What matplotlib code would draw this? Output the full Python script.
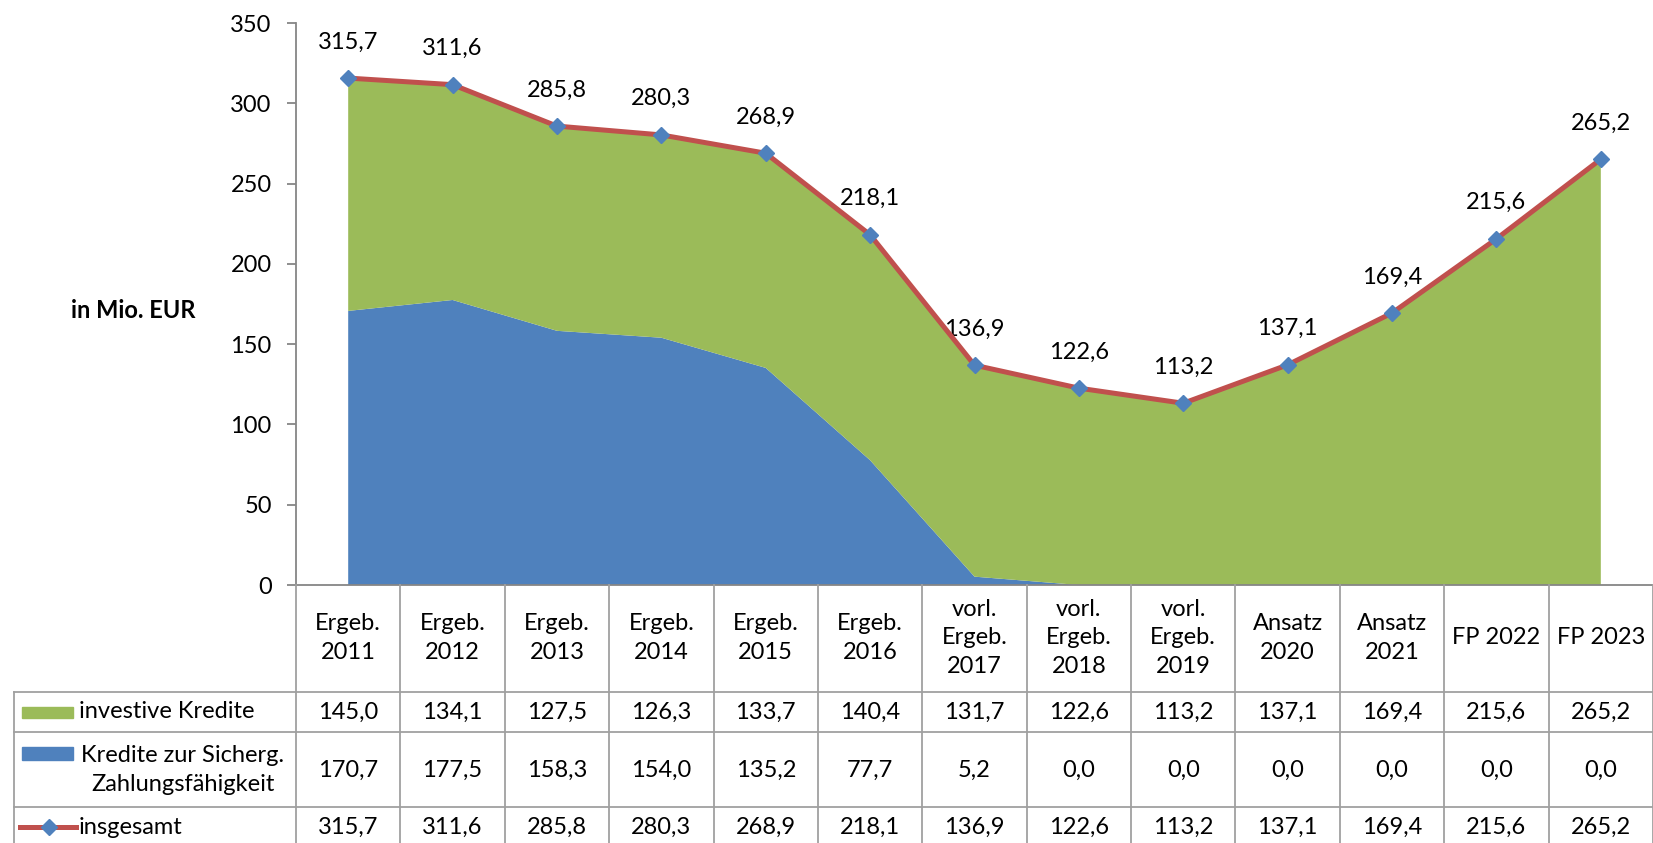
import matplotlib
matplotlib.use("Agg")
import matplotlib.pyplot as plt
import matplotlib.transforms as mtransforms
from matplotlib.lines import Line2D
from matplotlib.patches import Rectangle

plt.rcParams['font.family'] = ['Lato', 'DejaVu Sans']

# Daten
kategorien = ["Ergeb.\n2011", "Ergeb.\n2012", "Ergeb.\n2013", "Ergeb.\n2014", "Ergeb.\n2015",
              "Ergeb.\n2016", "vorl.\nErgeb.\n2017", "vorl.\nErgeb.\n2018", "vorl.\nErgeb.\n2019",
              "Ansatz\n2020", "Ansatz\n2021", "FP 2022", "FP 2023"]
investive = [145.0, 134.1, 127.5, 126.3, 133.7, 140.4, 131.7, 122.6, 113.2, 137.1, 169.4, 215.6, 265.2]
sicherung = [170.7, 177.5, 158.3, 154.0, 135.2, 77.7, 5.2, 0.0, 0.0, 0.0, 0.0, 0.0, 0.0]
insgesamt = [315.7, 311.6, 285.8, 280.3, 268.9, 218.1, 136.9, 122.6, 113.2, 137.1, 169.4, 215.6, 265.2]
reihen_namen = ["investive Kredite", "Kredite zur Sicherg.\nZahlungsfähigkeit", "insgesamt"]

GRUEN = "#9BBB59"
BLAU = "#4F81BD"
ROT = "#C0504D"
GRAU = "#A0A0A0"
FS = 17

W, H = 1653, 843
fig = plt.figure(figsize=(W / 100, H / 100), dpi=100)

def px(x):
    return x / W

def py(y):
    return 1 - y / H

ax = fig.add_axes([px(296), py(585), 1 - px(296), py(23) - py(585)])
x = list(range(len(kategorien)))

ax.stackplot(x, sicherung, investive, colors=[BLAU, GRUEN], linewidth=0)
ax.plot(x, insgesamt, color=ROT, linewidth=3.6, marker="D", markersize=8.5,
        markerfacecolor=BLAU, markeredgecolor=BLAU, zorder=5)
for xi, v in zip(x, insgesamt):
    ax.annotate(f"{v:.1f}".replace(".", ","), (xi, v), xytext=(0, 26),
                textcoords="offset points", ha="center", va="center", fontsize=FS)

ax.set_xlim(-0.5, len(kategorien) - 0.5)
ax.set_ylim(0, 350)
ax.set_yticks(range(0, 351, 50))
ax.set_xticks([])
ax.tick_params(axis="y", length=6.5, width=1.3, color="#868686", pad=11, labelsize=FS)
for s in ["top", "right"]:
    ax.spines[s].set_visible(False)
ax.spines["left"].set_color("#868686")
ax.spines["left"].set_linewidth(1.3)
ax.spines["bottom"].set_color("#868686")
ax.spines["bottom"].set_linewidth(1.3)

fig.text(px(133), py(311), "in Mio. EUR", ha="center", va="center",
         fontsize=FS, fontweight="bold")

# Datentabelle unter dem Diagramm
tr = mtransforms.blended_transform_factory(ax.transData, fig.transFigure)
zeilen_grenzen = [691.7, 732.3, 807]
for xi in range(len(kategorien) + 1):
    fig.add_artist(Line2D([xi - 0.5, xi - 0.5], [py(585), py(843)], transform=tr,
                          color=GRAU, linewidth=1.3))
for yb in zeilen_grenzen:
    fig.add_artist(Line2D([px(14), 1], [py(yb), py(yb)], color=GRAU, linewidth=1.3))
fig.add_artist(Line2D([px(14), px(14)], [py(691.7), py(843)], color=GRAU, linewidth=1.3))

for xi, kat in zip(x, kategorien):
    fig.text(xi, py(638), kat, transform=tr, ha="center", va="center",
             fontsize=FS, linespacing=1.42)

zeilen_y = [712, 770, 827]
for werte, yc in zip([investive, sicherung, insgesamt], zeilen_y):
    for xi, v in zip(x, werte):
        fig.text(xi, py(yc), f"{v:.1f}".replace(".", ","), transform=tr,
                 ha="center", va="center", fontsize=FS)

# Legende in der Tabelle
fig.add_artist(Rectangle((px(22), py(718)), px(73) - px(22), py(707) - py(718), color=GRUEN))
fig.add_artist(Rectangle((px(22), py(760)), px(73) - px(22), py(747) - py(760), color=BLAU))
fig.add_artist(Line2D([px(20), px(76)], [py(827), py(827)], color=ROT, linewidth=3.6))
fig.add_artist(Line2D([px(48.5)], [py(827)], marker="D", markersize=8.5, color=BLAU))

fig.text(px(79), py(712), reihen_namen[0], ha="left", va="center", fontsize=FS)
fig.text(px(183), py(770), reihen_namen[1], ha="center", va="center", fontsize=FS,
         linespacing=1.42, multialignment="center")
fig.text(px(79), py(827), reihen_namen[2], ha="left", va="center", fontsize=FS)

fig.savefig("out.png", dpi=100)
